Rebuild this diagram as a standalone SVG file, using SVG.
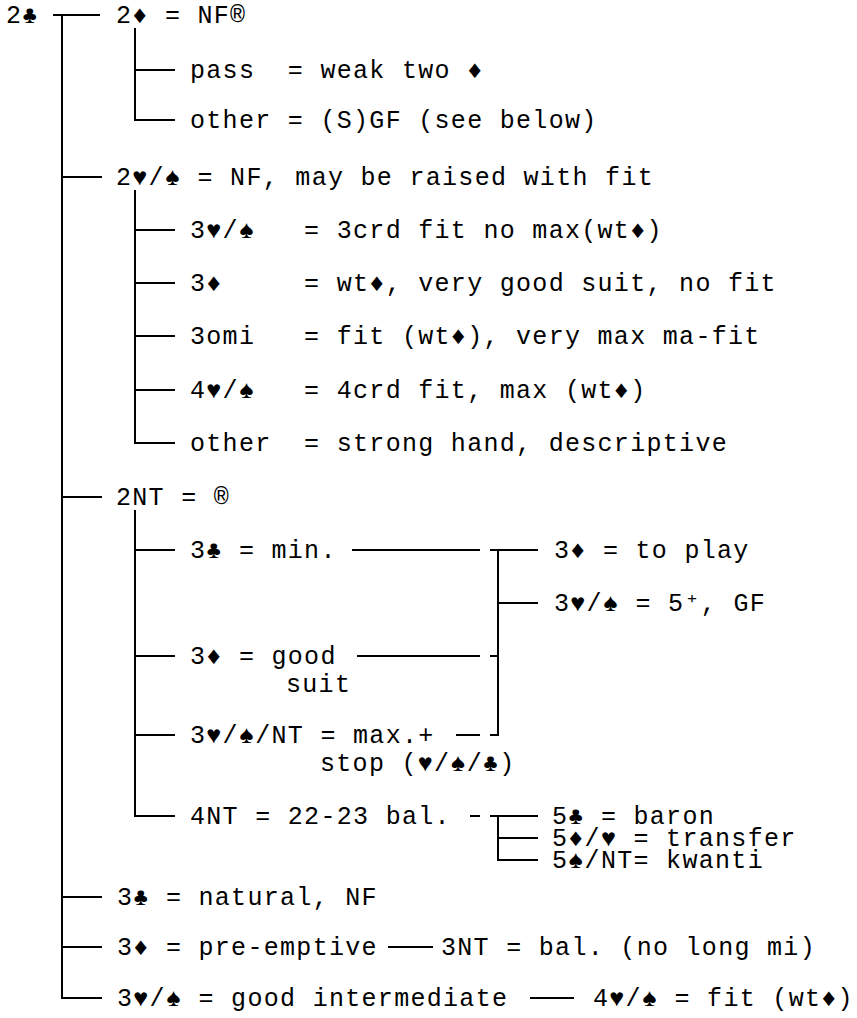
<svg xmlns="http://www.w3.org/2000/svg" width="857" height="1018" viewBox="0 0 857 1018">
<style>
text{font-family:"Liberation Mono","DejaVu Sans Mono",monospace;font-size:25px;letter-spacing:1.3px;fill:#000;white-space:pre}
.c line{stroke:#000;stroke-width:2;fill:none}
</style>
<rect width="857" height="1018" fill="#fff"/>
<g class="c" id="connectors">
<line x1="53" y1="15" x2="100" y2="15"/>
<line x1="62" y1="15" x2="62" y2="998"/>
<line x1="62" y1="177" x2="102" y2="177"/>
<line x1="62" y1="497" x2="102" y2="497"/>
<line x1="62" y1="897" x2="102" y2="897"/>
<line x1="62" y1="947" x2="102" y2="947"/>
<line x1="61" y1="998" x2="102" y2="998"/>
<line x1="135" y1="28" x2="135" y2="120"/>
<line x1="135" y1="70" x2="175" y2="70"/>
<line x1="134" y1="120" x2="175" y2="120"/>
<line x1="135" y1="190" x2="135" y2="443"/>
<line x1="135" y1="230" x2="175" y2="230"/>
<line x1="135" y1="283" x2="175" y2="283"/>
<line x1="135" y1="336" x2="175" y2="336"/>
<line x1="135" y1="390" x2="175" y2="390"/>
<line x1="134" y1="443" x2="175" y2="443"/>
<line x1="135" y1="510" x2="135" y2="816"/>
<line x1="135" y1="550" x2="175" y2="550"/>
<line x1="135" y1="656" x2="175" y2="656"/>
<line x1="135" y1="735" x2="175" y2="735"/>
<line x1="134" y1="816" x2="175" y2="816"/>
<line x1="352" y1="550" x2="480" y2="550"/>
<line x1="490" y1="550" x2="538" y2="550"/>
<line x1="498" y1="550" x2="498" y2="735"/>
<line x1="498" y1="603" x2="538" y2="603"/>
<line x1="357" y1="656" x2="480" y2="656"/>
<line x1="490" y1="656" x2="498" y2="656"/>
<line x1="456" y1="735" x2="480" y2="735"/>
<line x1="490" y1="735" x2="499" y2="735"/>
<line x1="470" y1="816" x2="480" y2="816"/>
<line x1="490" y1="816" x2="538" y2="816"/>
<line x1="498" y1="816" x2="498" y2="861"/>
<line x1="498" y1="838" x2="538" y2="838"/>
<line x1="497" y1="860" x2="538" y2="860"/>
<line x1="388" y1="947" x2="433" y2="947"/>
<line x1="530" y1="998" x2="574" y2="998"/>
</g>
<g id="n-2c"><text x="6" y="23">2♣</text></g>
<g id="n-2d"><text x="116" y="23">2♦ = NF®</text></g>
<g id="n-2d-pass"><text x="190" y="78">pass  = weak two ♦</text></g>
<g id="n-2d-other"><text x="190" y="128">other = (S)GF (see below)</text></g>
<g id="n-2hs"><text x="116" y="185">2♥/♠ = NF, may be raised with fit</text></g>
<g id="n-3hs"><text x="190" y="238">3♥/♠   = 3crd fit no max(wt♦)</text></g>
<g id="n-3d"><text x="190" y="291">3♦     = wt♦, very good suit, no fit</text></g>
<g id="n-3omi"><text x="190" y="344">3omi   = fit (wt♦), very max ma-fit</text></g>
<g id="n-4hs"><text x="190" y="398">4♥/♠   = 4crd fit, max (wt♦)</text></g>
<g id="n-2hs-other"><text x="190" y="451">other  = strong hand, descriptive</text></g>
<g id="n-2nt"><text x="116" y="505">2NT = ®</text></g>
<g id="n-2nt-3c"><text x="190" y="558">3♣ = min.</text></g>
<g id="n-2nt-3d"><text x="190" y="664">3♦ = good</text><text x="286" y="692">suit</text></g>
<g id="n-2nt-3m"><text x="190" y="743">3♥/♠/NT = max.+</text><text x="320" y="771">stop (♥/♠/♣)</text></g>
<g id="n-2nt-4nt"><text x="190" y="824">4NT = 22-23 bal.</text></g>
<g id="n-3d-play"><text x="554" y="558">3♦ = to play</text></g>
<g id="n-3hs-gf"><text x="554" y="611">3♥/♠ = 5⁺, GF</text></g>
<g id="n-5c"><text x="552" y="824">5♣ = baron</text></g>
<g id="n-5dh"><text x="552" y="846">5♦/♥ = transfer</text></g>
<g id="n-5snt"><text x="552" y="868">5♠/NT= kwanti</text></g>
<g id="n-3c"><text x="117" y="905">3♣ = natural, NF</text></g>
<g id="n-3d-pre"><text x="117" y="955">3♦ = pre-emptive</text></g>
<g id="n-3nt"><text x="441" y="955">3NT = bal. (no long mi)</text></g>
<g id="n-3hs-int"><text x="117" y="1006">3♥/♠ = good intermediate</text></g>
<g id="n-4hs-fit"><text x="593" y="1006">4♥/♠ = fit (wt♦)</text></g>
</svg>
